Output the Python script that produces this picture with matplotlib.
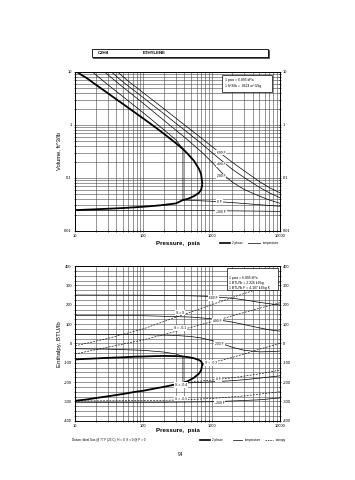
import matplotlib
matplotlib.use("Agg")
import matplotlib.pyplot as plt
from matplotlib.patches import Rectangle
from matplotlib.lines import Line2D
from matplotlib.ticker import FixedLocator, FuncFormatter, LogLocator, MultipleLocator, NullFormatter

plt.rcParams['font.family'] = ['Liberation Sans', 'DejaVu Sans']

# ---------------- data ----------------
# saturation dome
sat_p = [10, 15, 20, 30, 50, 75, 100, 150, 200, 300, 380, 450, 550, 650, 700, 731]
sat_v_vap = [10.5, 7.6, 5.8, 4.0, 2.5, 1.72, 1.32, 0.9, 0.68, 0.45, 0.35, 0.28, 0.21, 0.148, 0.118, 0.075]
sat_v_liq = [0.0245, 0.025, 0.0254, 0.026, 0.0268, 0.0277, 0.0284, 0.0296, 0.0307, 0.0328, 0.038, 0.040, 0.045, 0.052, 0.059, 0.075]
sat_h_vap = [-83, -80, -78, -75, -72, -69, -68, -66, -65, -66, -68, -71, -77, -86, -93, -107]
sat_h_liq = [-297, -290, -283, -274, -262, -251, -245, -233, -225, -212, -205, -195, -178, -157, -140, -107]

# isotherms, volume chart
t_labels = ["600 F", "400 F", "200 F", "0 F", "-200 F"]
iso_v_p = [
    [42, 60, 100, 200, 400, 700, 1000, 1500, 2000, 3000, 5000, 7000, 10000],
    [34, 50, 100, 200, 400, 700, 1000, 1500, 2000, 3000, 5000, 7000, 10000],
    [27, 50, 100, 200, 400, 700, 1000, 1500, 2000, 3000, 5000, 7000, 10000],
    [18, 30, 50, 100, 200, 300, 380, 380, 500, 1000, 2000, 5000, 10000],
    [10, 100, 1000, 3000, 10000],
]
iso_v_v = [
    [10.0, 6.74, 4.04, 2.02, 1.0, 0.57, 0.393, 0.262, 0.197, 0.135, 0.085, 0.065, 0.052],
    [10.0, 6.55, 3.27, 1.62, 0.80, 0.45, 0.303, 0.196, 0.145, 0.101, 0.066, 0.052, 0.042],
    [10.0, 5.2, 2.55, 1.22, 0.586, 0.313, 0.20, 0.114, 0.083, 0.060, 0.045, 0.038, 0.033],
    [10.0, 5.8, 3.45, 1.69, 0.81, 0.52, 0.35, 0.038, 0.0375, 0.036, 0.034, 0.031, 0.029],
    [0.0243, 0.0242, 0.0239, 0.0236, 0.0232],
]
lab_v_p = [1370, 1370, 1370, 1300, 1370]
lab_v_v = [0.30, 0.179, 0.106, 0.0355, 0.0229]

# isotherms, enthalpy chart
iso_h_p = [
    [10, 100, 500, 1000, 2000, 3000, 5000, 7000, 10000],
    [10, 100, 500, 1000, 2000, 3000, 5000, 7000, 10000],
    [10, 100, 300, 500, 700, 1000, 1500, 2000, 3000, 5000, 7000, 10000],
    [10, 30, 100, 200, 300, 380, 380, 500, 1000, 2000, 3000, 5000, 7000, 10000],
    [10, 100, 1000, 2000, 5000, 10000],
]
iso_h_h = [
    [250, 249, 246, 242, 233, 225, 212, 205, 198],
    [145, 143, 136, 127, 110, 97, 80, 70, 63],
    [47, 45, 41, 35, 28, 15, -5, -20, -36, -44, -43, -40],
    [-28, -30, -36, -45, -55, -68, -205, -204, -199, -193, -188, -180, -174, -168],
    [-307, -306, -302, -298, -292, -282],
]
lab_h_p = [1060, 1220, 1300, 1250, 1300]
lab_h_h = [235, 114, -4, -183, -307]

# isentropes, enthalpy chart
s_labels = ["S = 0", "S = -0.1", "S = -0.2", "S = -0.4", "S = -0.5"]
isen_p = [
    [10, 30, 100, 300, 1000, 3000, 10000],
    [10, 30, 100, 300, 1000, 3000, 10000],
    [731, 1000, 1500, 3000, 5000, 10000],
    [400, 1000, 2000, 5000, 10000],
    [10, 100, 344, 1000, 3000, 10000],
]
isen_h = [
    [-13, 25, 75, 135, 200, 258, 315],
    [-55, -20, 18, 62, 112, 160, 210],
    [-107, -98, -85, -55, -30, 0],
    [-203, -190, -178, -158, -138],
    [-298, -296, -293, -285, -272, -250],
]
lab_s_p = [344, 344, 980, 355, 355]
lab_s_h = [159, 80, -100, -214, -286]

x_ticks = [10, 100, 1000, 10000]
v_ticks = [0.01, 0.1, 1, 10]
h_ticks = [-400, -300, -200, -100, 0, 100, 200, 300, 400]

# ---------------- figure ----------------
W, H = 355, 480
fig = plt.figure(figsize=(W / 100, H / 100), dpi=100)
fig.patch.set_facecolor('white')

ax1 = fig.add_axes([75 / W, 1 - 230.7 / H, 205 / W, 158.7 / H])
ax2 = fig.add_axes([75 / W, 1 - 420.7 / H, 205 / W, 154.7 / H])

grid_kw = dict(color='0.28', lw=0.4)
tick_fs = 2.9
lab_fs = 2.4


def fmt_num(v, pos=None):
    if v >= 1:
        return "%d" % round(v)
    return ("%g" % v)


for ax in (ax1, ax2):
    ax.set_xscale('log')
    ax.set_xlim(10, 10000)
    ax.xaxis.set_major_locator(FixedLocator(x_ticks))
    ax.xaxis.set_major_formatter(FuncFormatter(fmt_num))
    ax.xaxis.set_minor_locator(LogLocator(base=10, subs=range(2, 10)))
    ax.xaxis.set_minor_formatter(NullFormatter())
    ax.grid(which='both', **grid_kw)
    ax.tick_params(which='both', labelsize=tick_fs, length=1.5, width=0.4, pad=1.5,
                   direction='inout', right=True, labelright=True, top=False)
    for sp in ax.spines.values():
        sp.set_linewidth(0.7)
    ax.set_axisbelow(True)

# top chart
ax1.set_yscale('log')
ax1.set_ylim(0.01, 10)
ax1.yaxis.set_major_locator(FixedLocator(v_ticks))
ax1.yaxis.set_major_formatter(FuncFormatter(fmt_num))
ax1.yaxis.set_minor_locator(LogLocator(base=10, subs=range(2, 10)))
ax1.yaxis.set_minor_formatter(NullFormatter())

ax1.plot(sat_p, sat_v_vap, color='black', lw=1.3, solid_capstyle='butt')
ax1.plot(sat_p, sat_v_liq, color='black', lw=1.3, solid_capstyle='butt')
for p, v in zip(iso_v_p, iso_v_v):
    ax1.plot(p, v, color='black', lw=0.5)
for t, p, v in zip(t_labels, lab_v_p, lab_v_v):
    ax1.text(p, v, t, fontsize=lab_fs, ha='center', va='center',
             bbox=dict(facecolor='white', edgecolor='none', pad=0.6))

ax1.add_patch(Rectangle((0.716, 0.876), 0.244, 0.105, transform=ax1.transAxes,
                        facecolor='white', edgecolor='black', lw=0.5, zorder=5))
ax1.text(0.732, 0.95, "1 psia = 6.895 kPa", transform=ax1.transAxes,
         fontsize=lab_fs, va='center', zorder=6)
ax1.text(0.732, 0.912, "1 ft^3/lb = .0624 m^3/kg", transform=ax1.transAxes,
         fontsize=lab_fs, va='center', zorder=6)

# bottom chart
ax2.set_ylim(-400, 400)
ax2.yaxis.set_major_locator(FixedLocator(h_ticks))
ax2.yaxis.set_major_formatter(FuncFormatter(lambda v, p: "%d" % v))
ax2.yaxis.set_minor_locator(MultipleLocator(25))

ax2.plot(sat_p, sat_h_vap, color='black', lw=1.3)
ax2.plot(sat_p, sat_h_liq, color='black', lw=1.3)
for p, h in zip(iso_h_p, iso_h_h):
    ax2.plot(p, h, color='black', lw=0.5)
for p, h in zip(isen_p, isen_h):
    ax2.plot(p, h, color='black', lw=0.45, ls=(0, (3, 2)))
for t, p, h in zip(t_labels, lab_h_p, lab_h_h):
    ax2.text(p, h, t, fontsize=lab_fs, ha='center', va='center',
             bbox=dict(facecolor='white', edgecolor='none', pad=0.6))
for t, p, h in zip(s_labels, lab_s_p, lab_s_h):
    ax2.text(p, h, t, fontsize=lab_fs, ha='center', va='center',
             bbox=dict(facecolor='white', edgecolor='none', pad=0.6))

ax2.add_patch(Rectangle((0.74, 0.845), 0.25, 0.14, transform=ax2.transAxes,
                        facecolor='white', edgecolor='black', lw=0.5, zorder=5))
for yy, t in zip([0.92, 0.888, 0.856],
                 ["1 psia = 6.895 kPa", "1 BTU/lb = 2.326 kJ/kg", "1 BTU/lb F = 4.187 kJ/kg K"]):
    ax2.text(0.752, yy, t, transform=ax2.transAxes, fontsize=lab_fs, va='center', zorder=6)

# axis labels
fig.text(177.5 / W, 1 - 243 / H, "Pressure,  psia", fontsize=4.4, fontweight='bold',
         ha='center', va='center')
fig.text(177.5 / W, 1 - 430.5 / H, "Pressure,  psia", fontsize=4.4, fontweight='bold',
         ha='center', va='center')
fig.text(59 / W, 1 - 151 / H, "Volume, ft^3/lb", fontsize=4.2, rotation=90,
         ha='center', va='center')
fig.text(59 / W, 1 - 344 / H, "Enthalpy, BTU/lb", fontsize=4.4, rotation=90,
         ha='center', va='center')

# title box (with slight shadow edge)
fig.add_artist(Rectangle((92.8 / W, 1 - 57.8 / H), 176 / W, 8 / H, transform=fig.transFigure,
                         facecolor='0.3', edgecolor='0.3', lw=0.6))
fig.add_artist(Rectangle((92 / W, 1 - 57 / H), 176 / W, 8 / H, transform=fig.transFigure,
                         facecolor='white', edgecolor='black', lw=0.6))
fig.text(98 / W, 1 - 53 / H, "C2H4", fontsize=3.2, fontweight='bold', va='center')
fig.text(143 / W, 1 - 53 / H, "ETHYLENE", fontsize=3.2, fontweight='bold', va='center')

# legend keys below charts
def key(x0, x1, y, lw, ls='-'):
    fig.add_artist(Line2D([x0 / W, x1 / W], [1 - y / H, 1 - y / H], transform=fig.transFigure,
                          color='black', lw=lw, ls=ls))

key(220, 230, 243, 1.2)
fig.text(232 / W, 1 - 243 / H, "2 phase", fontsize=2.2, va='center')
key(248, 260, 243, 0.5)
fig.text(263 / W, 1 - 243 / H, "temperature", fontsize=2.2, va='center')

key(200, 210, 440, 1.2)
fig.text(212 / W, 1 - 440 / H, "2 phase", fontsize=2.2, va='center')
key(233, 242, 440, 0.5)
fig.text(245 / W, 1 - 440 / H, "temperature", fontsize=2.2, va='center')
key(265, 273, 440, 0.5, ls=(0, (2, 1.5)))
fig.text(276 / W, 1 - 440 / H, "entropy", fontsize=2.2, va='center')

fig.text(72 / W, 1 - 440 / H, "Datum: Ideal Gas @ 77 F (25 C), H = 0, S = 0 @ P = 0",
         fontsize=2.2, va='center')
fig.text(180 / W, 1 - 454 / H, "94", fontsize=3.5, ha='center', va='center')

fig.savefig("out.png", dpi=100, facecolor='white')
